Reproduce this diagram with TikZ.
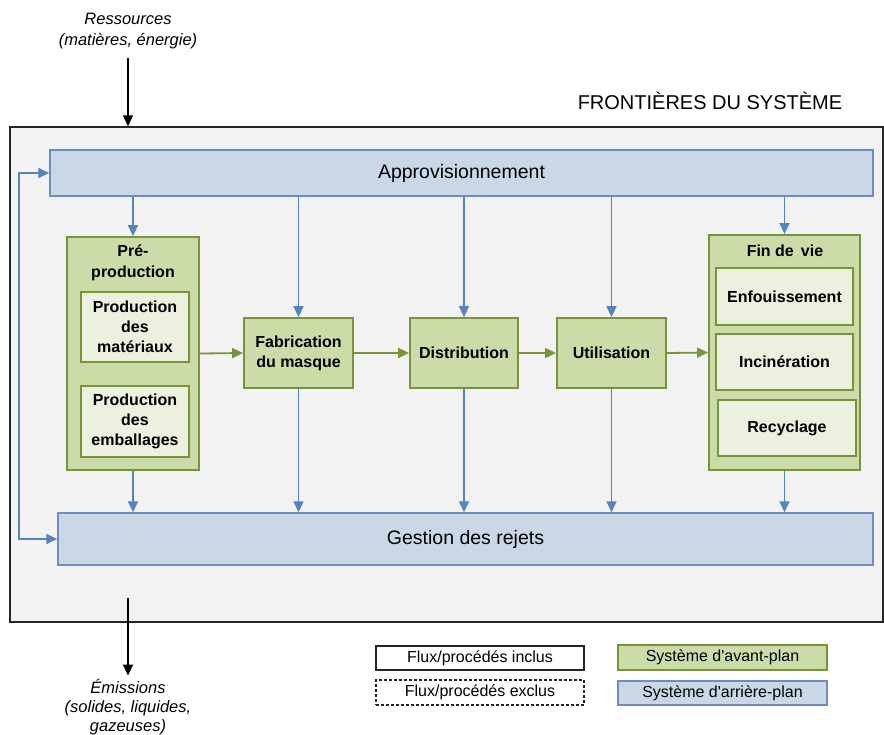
\documentclass[tikz,border=0pt]{standalone}
\usepackage{fontspec}
\setmainfont{Liberation Sans}
\usepackage{xcolor}
\definecolor{BackBlue}{HTML}{C9D7E7}
\definecolor{BackLine}{HTML}{6C8EBF}
\definecolor{FlowBlue}{HTML}{5583BE}
\definecolor{FrontGreen}{HTML}{CCDCA9}
\definecolor{FrontLine}{HTML}{77933C}
\definecolor{InnerGreen}{HTML}{EBF1DE}
\definecolor{BoundGray}{HTML}{F2F2F2}
\usetikzlibrary{arrows.meta, positioning}

\begin{document}
\begin{tikzpicture}[
        x=1pt, y=-1pt,
        font=\fontsize{16}{20}\selectfont,
        % Styles
        back_box/.style={rectangle, draw=BackLine, line width=1.5pt, fill=BackBlue, inner sep=0pt, font=\fontsize{19.5}{23}\selectfont},
        front_box/.style={rectangle, draw=FrontLine, line width=1.8pt, fill=FrontGreen, inner sep=0pt, align=center, font=\fontsize{16}{20}\selectfont\bfseries},
        sub_box/.style={front_box, fill=InnerGreen},
        legend_box/.style={rectangle, minimum width=208pt, minimum height=24pt, inner sep=0pt, font=\fontsize{16}{19}\selectfont},
        supply_arrow/.style={-{Triangle[length=11pt, width=10pt]}, FlowBlue, line width=1.6pt},
        loop_arrow/.style={{Triangle[length=11pt, width=10pt]}-{Triangle[length=11pt, width=10pt]}, FlowBlue, line width=1.6pt},
        flow_arrow/.style={-{Triangle[length=11pt, width=10pt]}, FrontLine, line width=1.8pt},
        ext_arrow/.style={-{Triangle[length=11pt, width=10pt]}, black, line width=1.6pt},
        ext_text/.style={align=center, font=\fontsize{16.5}{20.5}\selectfont\itshape}
    ]
    \useasboundingbox (0,0) rectangle (884,734);

    % 1. SYSTEM BOUNDARY
    \node[rectangle, draw=black!85, line width=1.5pt, fill=BoundGray, minimum width=873pt, minimum height=495pt, inner sep=0pt] (boundary) at (446.5,374.5) {};
    \node[font=\fontsize{20}{24}\selectfont] (boundary_title) at (710,101) {FRONTIÈRES DU SYSTÈME};

    % 2. BACKGROUND SYSTEM
    \node[back_box, minimum width=823pt, minimum height=46pt] (appro) at (461.5,173) {Approvisionnement};
    \node[back_box, minimum width=815pt, minimum height=52pt] (gestion) at (465.5,539) {Gestion des rejets};

    % 3. FOREGROUND SYSTEM
    \node[front_box, minimum width=132pt, minimum height=233pt] (preprod) at (133,353.5) {};
    \node[font=\fontsize{16}{21}\selectfont\bfseries, align=center] (preprod_title) at (133,262.5) {Pré-\\production};
    \node[sub_box, minimum width=108pt, minimum height=70pt] (materiaux) at (135,327) {Production\\des\\matériaux};
    \node[sub_box, minimum width=108pt, minimum height=71pt] (emballages) at (135,421.5) {Production\\des\\emballages};

    \node[front_box, minimum width=109pt, minimum height=70pt] (fab) at (298.5,353) {Fabrication\\du masque};
    \node[front_box, minimum width=108pt, minimum height=70pt] (distrib) at (464,353) {Distribution};
    \node[front_box, minimum width=109pt, minimum height=70pt] (util) at (611.5,353) {Utilisation};

    \node[front_box, minimum width=151pt, minimum height=235pt] (finvie) at (784.5,352.5) {};
    \node[font=\fontsize{16}{20}\selectfont\bfseries] (finvie_title) at (785,251) {Fin de\, vie};
    \node[sub_box, minimum width=137pt, minimum height=57pt] (enfouis) at (784.5,296.5) {Enfouissement};
    \node[sub_box, minimum width=137pt, minimum height=56pt] (incin) at (784.5,362) {Incinération};
    \node[sub_box, minimum width=138pt, minimum height=56pt] (recycl) at (787,428) {Recyclage};

    % 4. FLOWS
    \draw[flow_arrow] (preprod.east) -- (fab.west);
    \draw[flow_arrow] (fab) -- (distrib);
    \draw[flow_arrow] (distrib) -- (util);
    \draw[flow_arrow] (util.east) -- (finvie.west);

    \foreach \n in {preprod, fab, distrib, util, finvie} {
        \draw[supply_arrow] (appro.south -| \n.north) -- (\n.north);
        \draw[supply_arrow] (\n.south) -- (gestion.north -| \n.south);
    }
    \draw[loop_arrow] (gestion.west) -- ++(-38,0) |- (appro.west);

    % 5. INPUTS AND OUTPUTS
    \node[ext_text] (ressources) at (128,31) {Ressources\\(matières, énergie)};
    \coordinate (res_start) at (128,58);
    \draw[ext_arrow] (res_start) -- (res_start |- boundary.north);

    \coordinate (emi_start) at (128,598);
    \node[ext_text, font=\fontsize{16.5}{19}\selectfont\itshape] (emissions) at (128,707) {Émissions\\(solides, liquides,\\gazeuses)};
    \draw[ext_arrow] (emi_start) -- (emi_start |- emissions.north);

    % 6. LEGEND
    \node[legend_box, draw=black!85, line width=1.5pt, fill=white] (incl) at (480,658) {Flux/procédés inclus};
    \node[legend_box, draw=black!85, line width=1.2pt, dash pattern=on 3pt off 2pt, fill=white, minimum height=25pt] (excl) at (480,692.5) {Flux/procédés exclus};
    \node[legend_box, draw=FrontLine, line width=1.5pt, fill=FrontGreen, minimum width=209pt, minimum height=25pt] (avant) at (722.5,657.5) {Système d\textquotesingle avant-plan};
    \node[legend_box, draw=BackLine, line width=1.5pt, fill=BackBlue, minimum width=209pt] (arriere) at (722.5,693) {Système d\textquotesingle arrière-plan};
\end{tikzpicture}
\end{document}
